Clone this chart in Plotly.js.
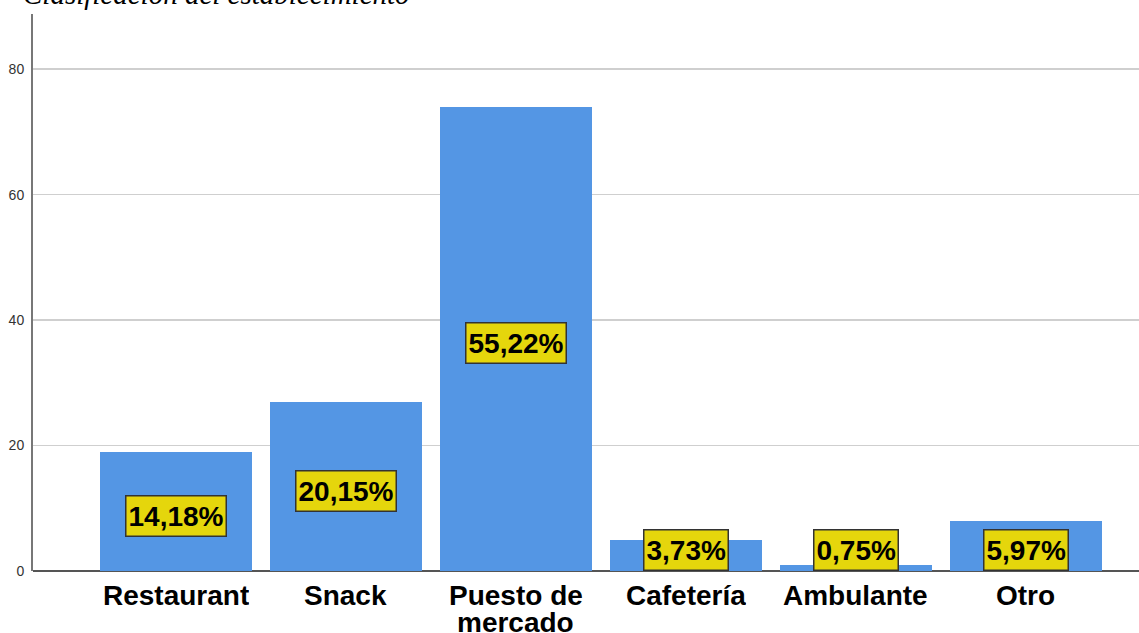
<!DOCTYPE html>
<html>
<head>
<meta charset="utf-8">
<script src="https://cdn.plot.ly/plotly-3.0.1.min.js"></script>
<style>html,body{margin:0;padding:0;background:#fff;}#chart{width:1139px;height:633px;}</style>
</head>
<body>
<div id="chart"></div>
<script>
const categories = ["Restaurant", "Snack", "Puesto de<br>mercado", "Cafetería", "Ambulante", "Otro"];
const counts = [19, 27, 74, 5, 1, 8];
const percentLabels = ["14,18%", "20,15%", "55,22%", "3,73%", "0,75%", "5,97%"];
const yTicks = [0, 20, 40, 60, 80];

const xIdx = categories.map((_, i) => i);

const trace = {
  type: 'bar',
  x: xIdx,
  y: counts,
  width: 0.894,
  marker: {color: '#5496e4', line: {width: 0}},
  hoverinfo: 'none'
};

const minLabelY = 3.3;
const labelAnnotations = counts.map((v, i) => ({
  x: i,
  y: Math.max(v / 2 - 0.7, minLabelY),
  xref: 'x', yref: 'y',
  text: '<b>' + percentLabels[i] + '</b>',
  showarrow: false,
  font: {family: 'Liberation Sans, Arial, sans-serif', size: 28, color: '#000'},
  bgcolor: '#e5d60c',
  bordercolor: '#333333',
  borderwidth: 1.5,
  borderpad: 2,
  height: 35,
  xanchor: 'center', yanchor: 'middle'
}));

// category labels drawn line by line (tighter line spacing than tick labels allow)
const catLabelAnnotations = [];
categories.forEach((c, i) => {
  c.split('<br>').forEach((line, j) => {
    catLabelAnnotations.push({
      x: i, y: 0, xref: 'x', yref: 'paper',
      xanchor: 'center', yanchor: 'middle',
      yshift: -24 - 27 * j,
      height: 26,
      text: '<b>' + line + '</b>',
      showarrow: false,
      font: {family: 'Liberation Sans, Arial, sans-serif', size: 28, color: '#000'}
    });
  });
});

const titleAnn = {
  x: 0, y: 1, xref: 'paper', yref: 'paper',
  xanchor: 'left', yanchor: 'bottom',
  xshift: -12, yshift: 2,
  text: '<i>Clasificación del establecimiento</i>',
  showarrow: false,
  font: {family: 'Liberation Serif, Times New Roman, serif', size: 29, color: '#000'}
};

const layout = {
  width: 1139, height: 633,
  margin: {l: 33, r: 0, t: 14, b: 62},
  paper_bgcolor: '#fff', plot_bgcolor: '#fff',
  showlegend: false,
  xaxis: {
    range: [-0.841, 5.665],
    tickmode: 'array', tickvals: xIdx,
    showticklabels: false,
    ticks: '', showgrid: false, zeroline: false,
    showline: false,
    fixedrange: true
  },
  yaxis: {
    range: [0, 88.8],
    tickmode: 'array', tickvals: yTicks, ticktext: yTicks.map(String),
    ticks: '', showgrid: true, gridcolor: '#cfcfcf', gridwidth: 1.5,
    zeroline: true, zerolinecolor: '#555', zerolinewidth: 1.5,
    showline: true, linecolor: '#777', linewidth: 2,
    ticklabelstandoff: 4,
    tickfont: {family: 'Liberation Sans, Arial, sans-serif', size: 14, color: '#333'},
    fixedrange: true
  },
  annotations: [titleAnn].concat(labelAnnotations, catLabelAnnotations),
  bargap: 0
};

Plotly.newPlot('chart', [trace], layout, {displayModeBar: false, staticPlot: true});
</script>
</body>
</html>
